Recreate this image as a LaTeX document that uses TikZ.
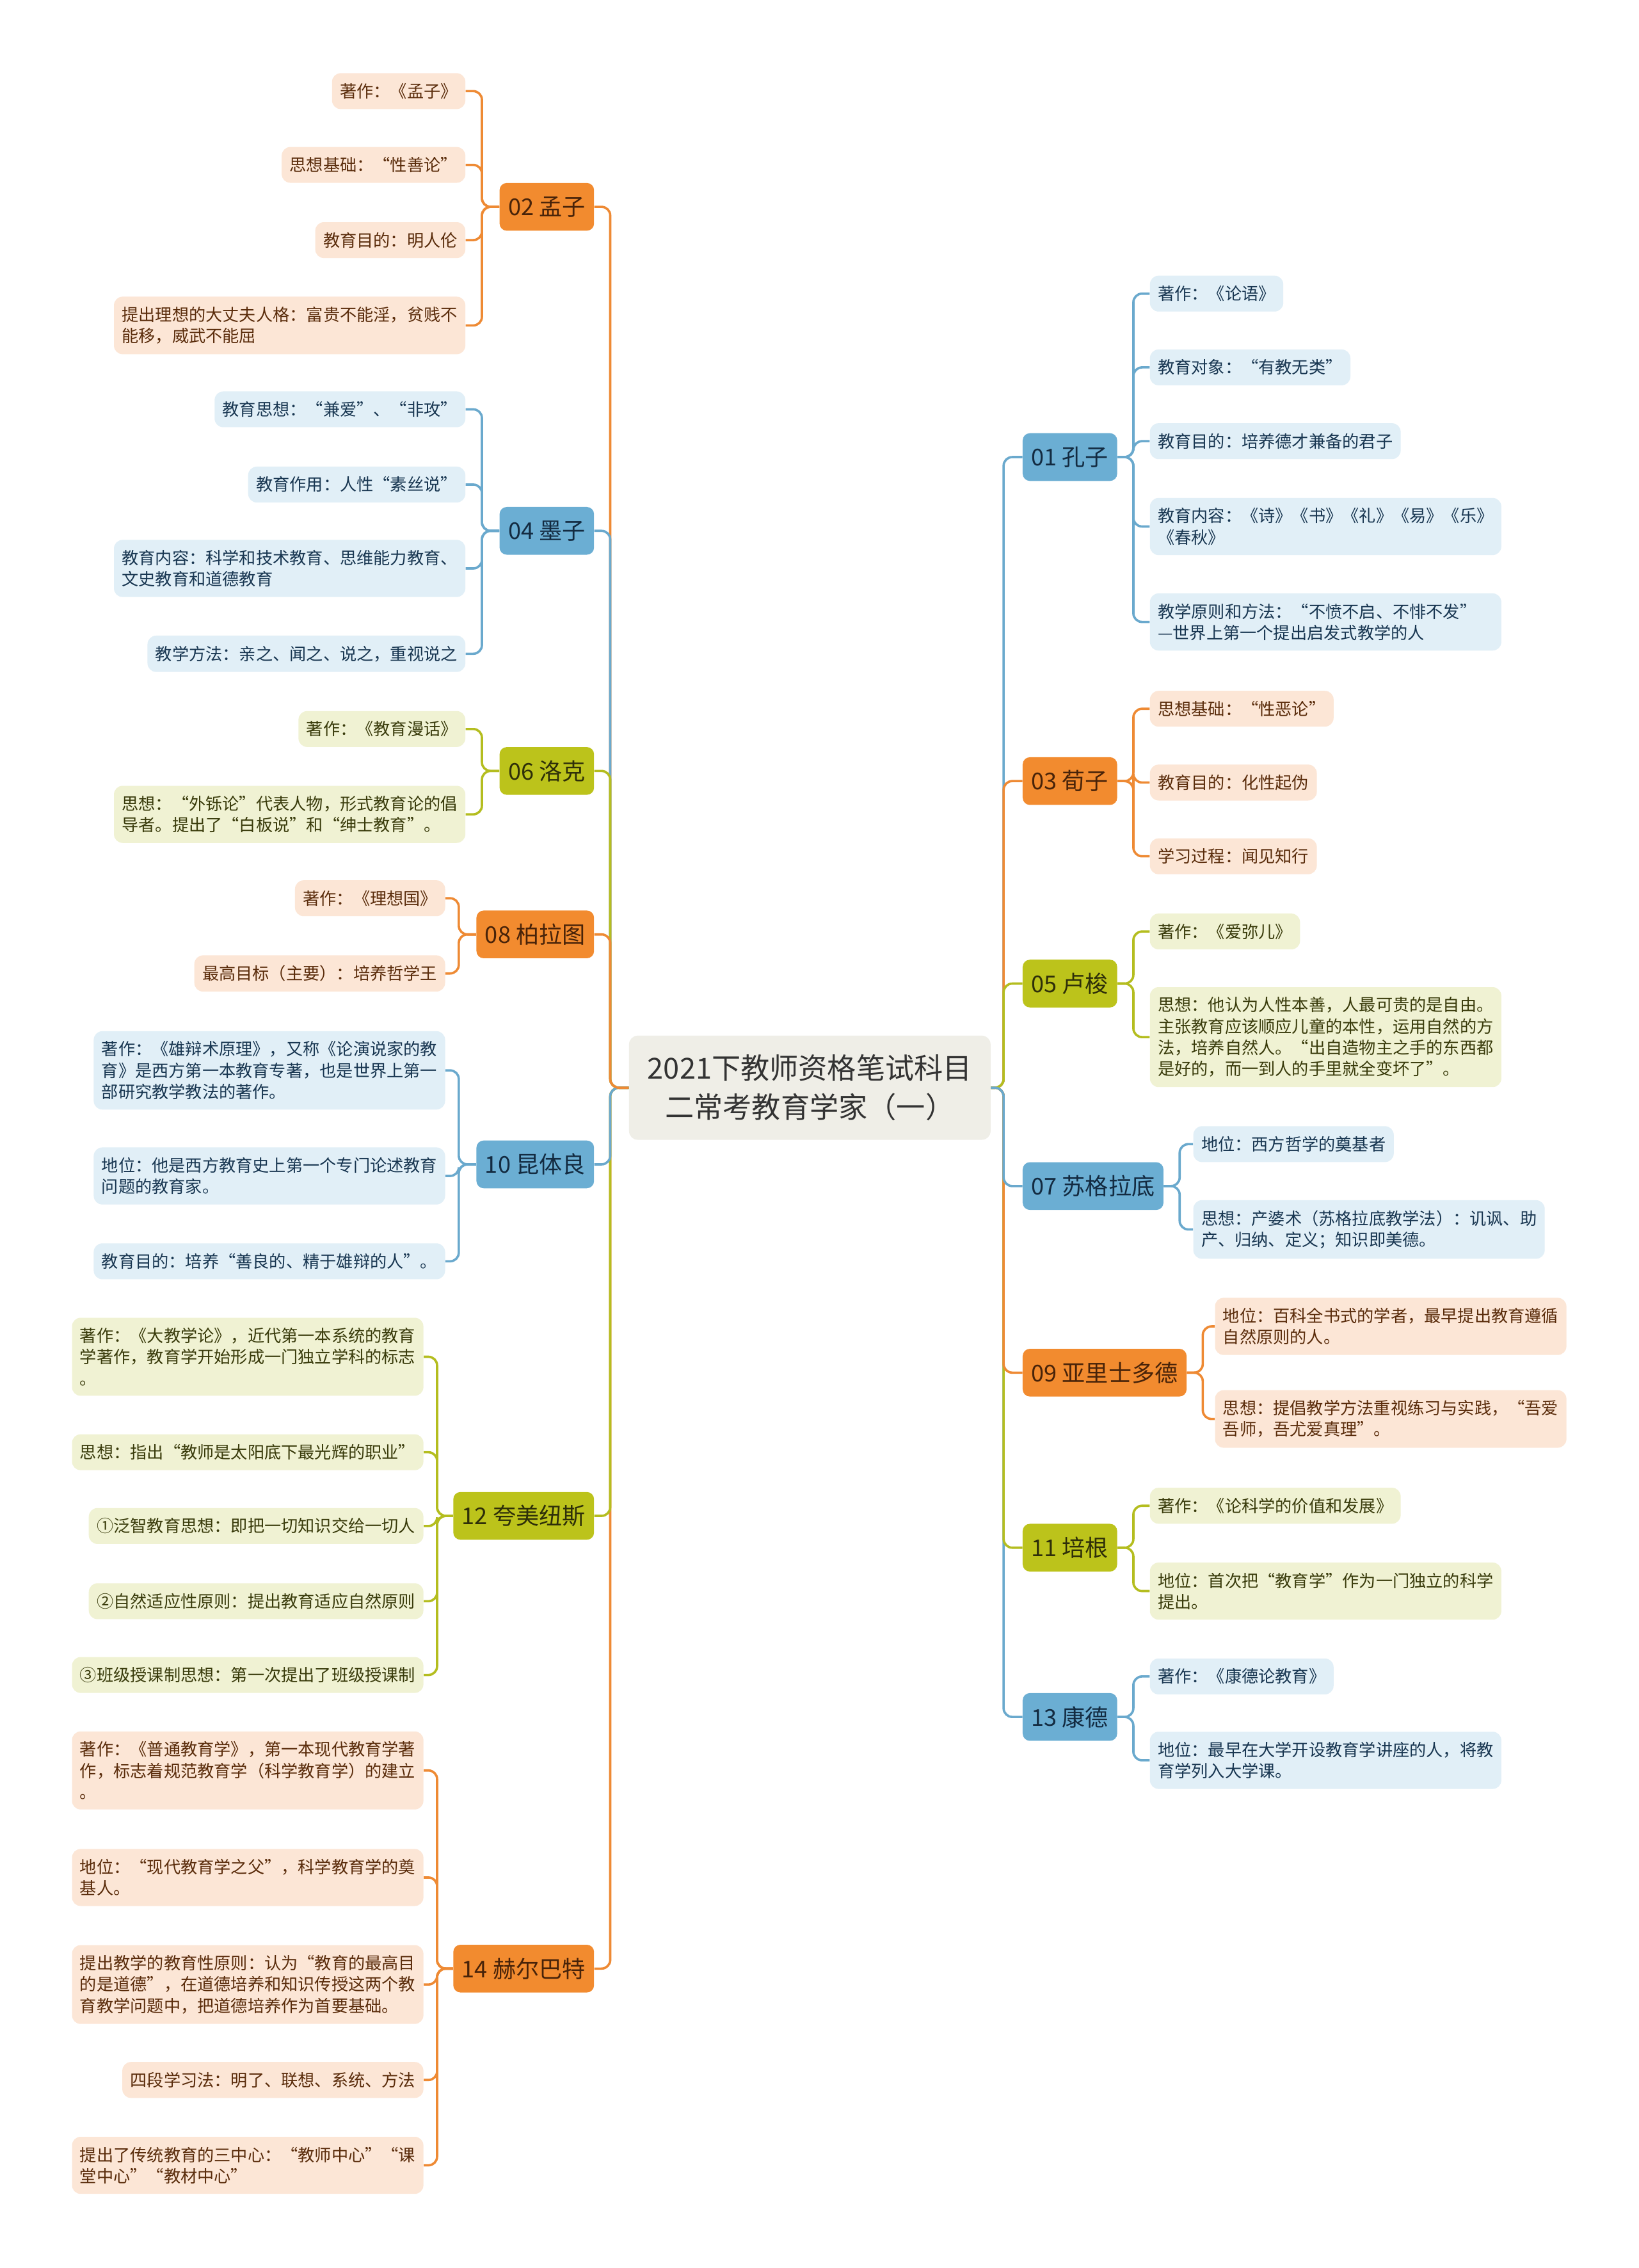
\documentclass[tikz,border=0pt]{standalone}
\usepackage{fontspec}
\newfontfamily\cjk{Noto Sans CJK SC}
\usetikzlibrary{positioning}
\definecolor{orangemain}{HTML}{F28B2F}
\definecolor{orangeleaf}{HTML}{FCE6D6}
\definecolor{orangeline}{HTML}{EE8A34}
\definecolor{orangetext}{HTML}{5A2C0B}
\definecolor{bluemain}{HTML}{6BAED3}
\definecolor{blueleaf}{HTML}{E1EFF7}
\definecolor{blueline}{HTML}{6AA9CD}
\definecolor{bluetext}{HTML}{183651}
\definecolor{greenmain}{HTML}{BCC31B}
\definecolor{greenleaf}{HTML}{F0F2D3}
\definecolor{greenline}{HTML}{B4BD1F}
\definecolor{greentext}{HTML}{393B0B}
\definecolor{rootfill}{HTML}{EFEEE7}
\tikzset{
    root/.style={fill=rootfill, text=black!80, rounded corners=6pt, align=center,
        minimum width=250pt, minimum height=72pt,
        font=\cjk\fontsize{20}{27}\selectfont},
    topic/.style={rounded corners=5pt, inner xsep=6pt, inner ysep=0pt, minimum height=33pt,
        font=\cjk\fontsize{16}{19}\selectfont},
    leaf/.style={rounded corners=6pt, inner xsep=5.5pt, inner ysep=7pt, align=left,
        font=\cjk\fontsize{11.6}{14.7}\selectfont},
    wide/.style={text width=232pt},
    otopic/.style={topic, fill=orangemain, text=orangetext!80!black},
    btopic/.style={topic, fill=bluemain, text=bluetext!80!black},
    gtopic/.style={topic, fill=greenmain, text=greentext!80!black},
    oleaf/.style={leaf, fill=orangeleaf, text=orangetext},
    bleaf/.style={leaf, fill=blueleaf, text=bluetext},
    gleaf/.style={leaf, fill=greenleaf, text=greentext},
    olink/.style={draw=orangeline, line width=1.6pt, rounded corners=6pt},
    blink/.style={draw=blueline, line width=1.6pt, rounded corners=6pt},
    glink/.style={draw=greenline, line width=1.6pt, rounded corners=6pt},
}

\begin{document}
\begin{tikzpicture}[x=1pt, y=-1pt]
\useasboundingbox[fill=white] (0,0) rectangle (1133,1568);
	% centre
	\node[root] (root) at (560,752) {2021下教师资格笔试科目\\二常考教育学家（一）};
	\coordinate (lspine) at (422,752);
	\coordinate (rspine) at (694,752);
	% left topics
	\node[otopic, anchor=east] (n02) at (411,143) {02 孟子};
	\node[btopic, anchor=east] (n04) at (411,367) {04 墨子};
	\node[gtopic, anchor=east] (n06) at (411,533) {06 洛克};
	\node[otopic, anchor=east] (n08) at (411,646) {08 柏拉图};
	\node[btopic, anchor=east] (n10) at (411,805) {10 昆体良};
	\node[gtopic, anchor=east] (n12) at (411,1048) {12 夸美纽斯};
	\node[otopic, anchor=east] (n14) at (411,1361) {14 赫尔巴特};
	% right topics
	\node[btopic, anchor=west] (n01) at (707,316) {01 孔子};
	\node[otopic, anchor=west] (n03) at (707,540) {03 荀子};
	\node[gtopic, anchor=west] (n05) at (707,680) {05 卢梭};
	\node[btopic, anchor=west] (n07) at (707,820) {07 苏格拉底};
	\node[otopic, anchor=west] (n09) at (707,949) {09 亚里士多德};
	\node[gtopic, anchor=west] (n11) at (707,1070) {11 培根};
	\node[btopic, anchor=west] (n13) at (707,1187) {13 康德};
	% main links
	\draw[olink] (root.west) -- (lspine) |- (n02.east);
	\draw[olink] (root.west) -- (lspine) |- (n14.east);
	\draw[blink] (root.west) -- (lspine) |- (n04.east);
	\draw[glink] (root.west) -- (lspine) |- (n12.east);
	\draw[glink] (root.west) -- (lspine) |- (n06.east);
	\draw[blink] (root.west) -- (lspine) |- (n10.east);
	\draw[olink] (root.west) -- (lspine) |- (n08.east);
	\draw[blink] (root.east) -- (rspine) |- (n01.west);
	\draw[blink] (root.east) -- (rspine) |- (n13.west);
	\draw[olink] (root.east) -- (rspine) |- (n03.west);
	\draw[glink] (root.east) -- (rspine) |- (n11.west);
	\draw[olink] (root.east) -- (rspine) |- (n09.west);
	\draw[glink] (root.east) -- (rspine) |- (n05.west);
	\draw[blink] (root.east) -- (rspine) |- (n07.west);

	% 02 孟子
	\node[oleaf, anchor=east] (l02a) at (322,63) {著作：《孟子》};
	\node[oleaf, anchor=east] (l02b) at (322,114) {思想基础：“性善论”};
	\node[oleaf, anchor=east] (l02c) at (322,166) {教育目的：明人伦};
	\node[oleaf, wide, anchor=east] (l02d) at (322,225) {提出理想的大丈夫人格：富贵不能淫，贫贱不\\能移，威武不能屈};
	\foreach \l in {l02a,l02b,l02c,l02d}
		\draw[olink] (n02.west) -- ++(-12,0) |- (\l.east);
	% 04 墨子
	\node[bleaf, anchor=east] (l04a) at (322,283) {教育思想：“兼爱”、“非攻”};
	\node[bleaf, anchor=east] (l04b) at (322,335) {教育作用：人性“素丝说”};
	\node[bleaf, wide, anchor=east] (l04c) at (322,393) {教育内容：科学和技术教育、思维能力教育、\\文史教育和道德教育};
	\node[bleaf, anchor=east] (l04d) at (322,452) {教学方法：亲之、闻之、说之，重视说之};
	\foreach \l in {l04a,l04b,l04c,l04d}
		\draw[blink] (n04.west) -- ++(-12,0) |- (\l.east);
	% 06 洛克
	\node[gleaf, anchor=east] (l06a) at (322,504) {著作：《教育漫话》};
	\node[gleaf, wide, anchor=east] (l06b) at (322,563) {思想：“外铄论”代表人物，形式教育论的倡\\导者。提出了“白板说”和“绅士教育”。};
	\foreach \l in {l06a,l06b}
		\draw[glink] (n06.west) -- ++(-12,0) |- (\l.east);
	% 08 柏拉图
	\node[oleaf, anchor=east] (l08a) at (308,621) {著作：《理想国》};
	\node[oleaf, anchor=east] (l08b) at (308,673) {最高目标（主要）：培养哲学王};
	\foreach \l in {l08a,l08b}
		\draw[olink] (n08.west) -- ++(-12,0) |- (\l.east);
	% 10 昆体良
	\node[bleaf, wide, anchor=east] (l10a) at (308,740) {著作：《雄辩术原理》，又称《论演说家的教\\育》是西方第一本教育专著，也是世界上第一\\部研究教学教法的著作。};
	\node[bleaf, wide, anchor=east] (l10b) at (308,813) {地位：他是西方教育史上第一个专门论述教育\\问题的教育家。};
	\node[bleaf, anchor=east] (l10c) at (308,872) {教育目的：培养“善良的、精于雄辩的人”。};
	\foreach \l in {l10a,l10b,l10c}
		\draw[blink] (n10.west) -- ++(-12,0) |- (\l.east);
	% 12 夸美纽斯
	\node[gleaf, wide, anchor=east] (l12a) at (293,938) {著作：《大教学论》，近代第一本系统的教育\\学著作，教育学开始形成一门独立学科的标志\\。};
	\node[gleaf, anchor=east] (l12b) at (293,1004) {思想：指出“教师是太阳底下最光辉的职业”};
	\node[gleaf, anchor=east] (l12c) at (293,1055) {①泛智教育思想：即把一切知识交给一切人};
	\node[gleaf, anchor=east] (l12d) at (293,1107) {②自然适应性原则：提出教育适应自然原则};
	\node[gleaf, anchor=east] (l12e) at (293,1158) {③班级授课制思想：第一次提出了班级授课制};
	\foreach \l in {l12a,l12b,l12c,l12d,l12e}
		\draw[glink] (n12.west) -- ++(-11,0) |- (\l.east);
	% 14 赫尔巴特
	\node[oleaf, wide, anchor=east] (l14a) at (293,1224) {著作：《普通教育学》，第一本现代教育学著\\作，标志着规范教育学（科学教育学）的建立\\。};
	\node[oleaf, wide, anchor=east] (l14b) at (293,1298) {地位：“现代教育学之父”，科学教育学的奠\\基人。};
	\node[oleaf, wide, anchor=east] (l14c) at (293,1372) {提出教学的教育性原则：认为“教育的最高目\\的是道德”，在道德培养和知识传授这两个教\\育教学问题中，把道德培养作为首要基础。};
	\node[oleaf, anchor=east] (l14d) at (293,1438) {四段学习法：明了、联想、系统、方法};
	\node[oleaf, wide, anchor=east] (l14e) at (293,1497) {提出了传统教育的三中心：“教师中心”“课\\堂中心”“教材中心”};
	\foreach \l in {l14a,l14b,l14c,l14d,l14e}
		\draw[olink] (n14.west) -- ++(-11,0) |- (\l.east);

	% 01 孔子
	\node[bleaf, anchor=west] (l01a) at (795,203) {著作：《论语》};
	\node[bleaf, anchor=west] (l01b) at (795,254) {教育对象：“有教无类”};
	\node[bleaf, anchor=west] (l01c) at (795,305) {教育目的：培养德才兼备的君子};
	\node[bleaf, wide, anchor=west] (l01d) at (795,364) {教育内容：《诗》《书》《礼》《易》《乐》\\《春秋》};
	\node[bleaf, wide, anchor=west] (l01e) at (795,430) {教学原则和方法：“不愤不启、不悱不发”\\—世界上第一个提出启发式教学的人};
	\foreach \l in {l01a,l01b,l01c,l01d,l01e}
		\draw[blink] (n01.east) -- ++(11,0) |- (\l.west);
	% 03 荀子
	\node[oleaf, anchor=west] (l03a) at (795,490) {思想基础：“性恶论”};
	\node[oleaf, anchor=west] (l03b) at (795,541) {教育目的：化性起伪};
	\node[oleaf, anchor=west] (l03c) at (795,592) {学习过程：闻见知行};
	\foreach \l in {l03a,l03b,l03c}
		\draw[olink] (n03.east) -- ++(11,0) |- (\l.west);
	% 05 卢梭
	\node[gleaf, anchor=west] (l05a) at (795,644) {著作：《爱弥儿》};
	\node[gleaf, wide, anchor=west] (l05b) at (795,717) {思想：他认为人性本善，人最可贵的是自由。\\主张教育应该顺应儿童的本性，运用自然的方\\法，培养自然人。“出自造物主之手的东西都\\是好的，而一到人的手里就全变坏了”。};
	\foreach \l in {l05a,l05b}
		\draw[glink] (n05.east) -- ++(11,0) |- (\l.west);
	% 07 苏格拉底
	\node[bleaf, anchor=west] (l07a) at (825,791) {地位：西方哲学的奠基者};
	\node[bleaf, wide, anchor=west] (l07b) at (825,850) {思想：产婆术（苏格拉底教学法）：讥讽、助\\产、归纳、定义；知识即美德。};
	\foreach \l in {l07a,l07b}
		\draw[blink] (n07.east) -- ++(11,0) |- (\l.west);
	% 09 亚里士多德
	\node[oleaf, wide, anchor=west] (l09a) at (840,917) {地位：百科全书式的学者，最早提出教育遵循\\自然原则的人。};
	\node[oleaf, wide, anchor=west] (l09b) at (840,981) {思想：提倡教学方法重视练习与实践，“吾爱\\吾师，吾尤爱真理”。};
	\foreach \l in {l09a,l09b}
		\draw[olink] (n09.east) -- ++(11,0) |- (\l.west);
	% 11 培根
	\node[gleaf, anchor=west] (l11a) at (795,1041) {著作：《论科学的价值和发展》};
	\node[gleaf, wide, anchor=west] (l11b) at (795,1100) {地位：首次把“教育学”作为一门独立的科学\\提出。};
	\foreach \l in {l11a,l11b}
		\draw[glink] (n11.east) -- ++(11,0) |- (\l.west);
	% 13 康德
	\node[bleaf, anchor=west] (l13a) at (795,1159) {著作：《康德论教育》};
	\node[bleaf, wide, anchor=west] (l13b) at (795,1217) {地位：最早在大学开设教育学讲座的人，将教\\育学列入大学课。};
	\foreach \l in {l13a,l13b}
		\draw[blink] (n13.east) -- ++(11,0) |- (\l.west);
\end{tikzpicture}
\end{document}
